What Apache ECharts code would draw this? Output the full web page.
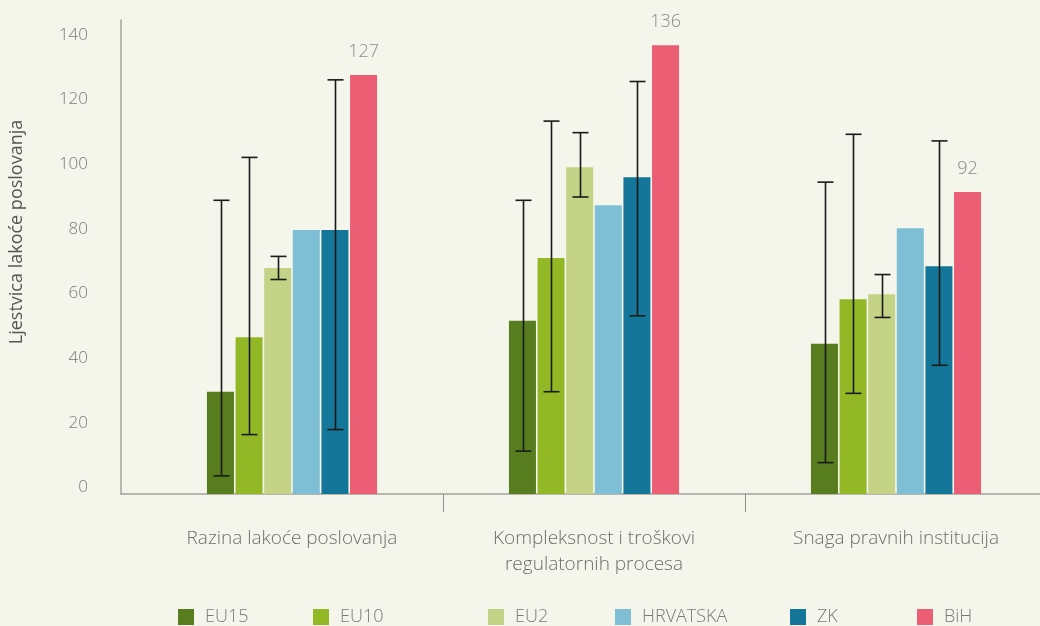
<!DOCTYPE html>
<html>
<head>
<meta charset="utf-8">
<script src="https://cdn.jsdelivr.net/npm/echarts@6/dist/echarts.min.js"></script>
<style>
html, body { margin: 0; padding: 0; background: #f4f5eb; }
#chart { width: 1040px; height: 626px; }
</style>
</head>
<body>
<div id="chart"></div>
<script>
// podaci
const categories = ['Razina lakoće poslovanja', 'Kompleksnost i troškovi\nregulatornih procesa', 'Snaga pravnih institucija'];
const seriesNames = ['EU15', 'EU10', 'EU2', 'HRVATSKA', 'ZK', 'BiH'];
const eu15 = [31, 52.5, 45.5];
const eu10 = [47.5, 71.5, 59];
const eu2 = [68.5, 99, 60.5];
const hrvatska = [80, 87.5, 80.5];
const zk = [80, 96, 69];
const bih = [127, 136, 91.5];
const bihLabels = ['127', '136', '92'];
const eu15Low = [5.5, 13, 9.5];
const eu15High = [89, 89, 94.5];
const eu10Low = [18, 31, 30.5];
const eu10High = [102, 113, 109];
const eu2Low = [65, 90, 53.5];
const eu2High = [72, 109.5, 66.5];
const zkLow = [19.5, 54, 39];
const zkHigh = [125.5, 125, 107];
const yTicks = [0, 20, 40, 60, 80, 100, 120, 140];

const colors = ['#577d1f', '#93b826', '#c4d385', '#7ebfd6', '#147698', '#eb5e74'];
const legendLeft = [178, 313, 488, 615, 790, 917];
const barStep = 28.6;

function errData(low, high) {
    return low.map(function (l, i) { return [i, l, high[i]]; });
}

function errSeries(name, k, low, high) {
    const offset = (k - 2.5) * barStep;
    return {
        name: name,
        type: 'custom',
        xAxisIndex: 1,
        yAxisIndex: 1,
        z: 10,
        silent: true,
        data: errData(low, high),
        encode: { x: 0, y: [1, 2] },
        renderItem: function (params, api) {
            const lo = api.coord([api.value(0), api.value(1)]);
            const hi = api.coord([api.value(0), api.value(2)]);
            const x = Math.round(lo[0] + offset) + 0.5;
            const st = { stroke: '#1a1a1a', lineWidth: 1.6 };
            return {
                type: 'group',
                children: [
                    { type: 'line', shape: { x1: x, y1: hi[1], x2: x, y2: lo[1] }, style: st },
                    { type: 'line', shape: { x1: x - 8, y1: hi[1], x2: x + 8, y2: hi[1] }, style: st },
                    { type: 'line', shape: { x1: x - 8, y1: lo[1], x2: x + 8, y2: lo[1] }, style: st }
                ]
            };
        }
    };
}

const values = [eu15, eu10, eu2, hrvatska, zk, bih];
const barSeries = seriesNames.map(function (n, k) {
    const s = {
        name: n,
        type: 'bar',
        xAxisIndex: 1,
        yAxisIndex: 1,
        data: values[k],
        barWidth: 27,
        barGap: '6%',
        itemStyle: { color: colors[k] }
    };
    if (n === 'BiH') {
        s.label = {
            show: true,
            position: 'top',
            distance: 14,
            fontSize: 18,
            fontWeight: 300,
            color: '#8a8a8a',
            fontFamily: 'Open Sans',
            formatter: function (p) { return bihLabels[p.dataIndex]; }
        };
    }
    return s;
});

var chart = echarts.init(document.getElementById('chart'));
chart.setOption({
    backgroundColor: '#f4f5eb',
    animation: false,
    color: colors,
    textStyle: { fontFamily: 'Open Sans', fontWeight: 300 },
    grid: [
        { left: 121, right: 0, top: 20, bottom: 132, outerBoundsMode: 'none' },
        { left: 141, width: 906, top: 32, bottom: 132, outerBoundsMode: 'none' }
    ],
    xAxis: [{
        gridIndex: 0,
        type: 'value',
        min: 0,
        max: 1,
        axisLine: { show: true, onZero: false, lineStyle: { color: '#a3a39c', width: 1.5 } },
        axisTick: { show: false },
        axisLabel: { show: false },
        splitLine: { show: false }
    }, {
        gridIndex: 1,
        type: 'category',
        data: categories,
        axisLine: { show: false },
        axisTick: {
            show: true,
            length: 18,
            interval: function (i) { return i > 0; },
            lineStyle: { color: '#8f8f8a', width: 1 }
        },
        axisLabel: {
            margin: 32,
            fontSize: 19,
            fontWeight: 300,
            lineHeight: 26,
            color: '#6e6e6e'
        }
    }],
    yAxis: [{
        gridIndex: 0,
        type: 'value',
        min: -2.07,
        max: 144.64,
        name: 'Ljestvica lakoće poslovanja',
        nameLocation: 'middle',
        nameGap: 95,
        nameTextStyle: { fontSize: 18, fontWeight: 'normal', color: '#555555', padding: [0, 0, 0, 50] },
        axisLine: { show: true, onZero: false, lineStyle: { color: '#a3a39c', width: 1.5 } },
        axisTick: { show: false },
        splitLine: { show: false },
        axisLabel: {
            customValues: yTicks,
            fontSize: 17,
            fontWeight: 300,
            color: '#7a7a7a',
            margin: 33
        }
    }, {
        gridIndex: 1,
        type: 'value',
        min: 0,
        max: 140,
        show: false
    }],
    legend: seriesNames.map(function (n, i) {
        return {
            data: [n],
            left: legendLeft[i],
            top: 608,
            padding: 0,
            icon: 'rect',
            itemWidth: 16,
            itemHeight: 16,
            selectedMode: false,
            textStyle: { fontSize: 18, fontWeight: 300, color: '#7a7a7a', padding: [0, 0, 0, 6] }
        };
    }),
    series: barSeries.concat([
        errSeries('EU15', 0, eu15Low, eu15High),
        errSeries('EU10', 1, eu10Low, eu10High),
        errSeries('EU2', 2, eu2Low, eu2High),
        errSeries('ZK', 4, zkLow, zkHigh)
    ])
});
</script>
</body>
</html>
